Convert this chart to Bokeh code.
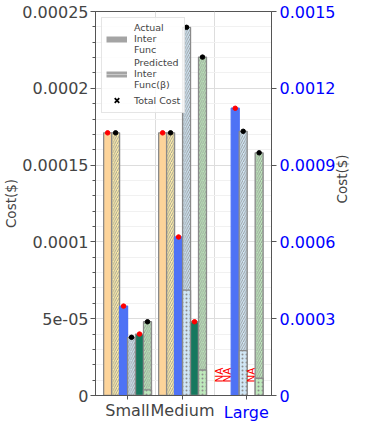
import math
from bokeh.plotting import figure
from bokeh.models import (ColumnDataSource, Range1d, LinearAxis, FixedTicker,
                          Legend, LegendItem)
from bokeh.core.properties import value
from bokeh.embed import file_html
from bokeh.resources import INLINE

# ---------------- data ----------------
groups = ["Small", "Medium", "Large"]
group_pos = [0.0, 1.0, 2.03]
tick_pos = [0.0, 1.0, 2.16]
group_axis = ["default", "default", "right"]   # Large uses the right (blue) axis

left_ticks = [0, 0.00005, 0.0001, 0.00015, 0.0002, 0.00025]
left_tick_labels = ["0", "5e-05", "0.0001", "0.00015", "0.0002", "0.00025"]
right_ticks = [0, 0.0003, 0.0006, 0.0009, 0.0012, 0.0015]
right_tick_labels = ["0", "0.0003", "0.0006", "0.0009", "0.0012", "0.0015"]

# total cost of each bar (None = NA), inter-function part of predicted bars
orange_total = [0.000171, 0.000171, None]
yellow_total = [0.000171, 0.000171, None]
blue_total = [0.0000582, 0.0001032, 0.001122]
lblue_total = [0.0000379, 0.0002397, 0.001032]
lblue_inter = [0.0, 0.0000686, 0.000175]
dgreen_total = [0.0000400, 0.0000480, None]
lgreen_total = [0.0000480, 0.0002203, 0.000948]
lgreen_inter = [0.0000036, 0.0000166, 0.0000674]

# ---------------- styles ----------------
FONT = "DejaVu Sans"
EDGE = "#8a8a8a"
AXC = "#555555"
series = [
    dict(total=orange_total, inter=None, fill="#FDD49A", line=EDGE, hatch=None, dot="red"),
    dict(total=yellow_total, inter=None, fill="#FFEFAA", line=EDGE, hatch="/", dot="black"),
    dict(total=blue_total, inter=None, fill="#4E72F5", line="#4E72F5", hatch=None, dot="red"),
    dict(total=lblue_total, inter=lblue_inter, fill="#D0E6F5", line=EDGE, hatch="/", dot="black"),
    dict(total=dgreen_total, inter=None, fill="#16785E", line=EDGE, hatch=None, dot="red"),
    dict(total=lgreen_total, inter=lgreen_inter, fill="#BEE9BC", line=EDGE, hatch="/", dot="black"),
]
BAR_W = 0.145

p = figure(width=361, height=424,
           x_range=Range1d(-0.583, 2.617), y_range=Range1d(0, 0.00025),
           output_backend="svg", toolbar_location=None,
           min_border_left=90, min_border_top=11, min_border_right=87, min_border_bottom=0)
p.extra_y_ranges = {"right": Range1d(0, 0.0015)}
p.background_fill_color = "white"
p.border_fill_color = "white"
p.outline_line_color = AXC

# grids
p.ygrid.grid_line_color = "#dddddd"
p.ygrid.minor_grid_line_color = "#f1f1f1"
p.xgrid.ticker = FixedTicker(ticks=[0.5, 1.58])
p.xgrid.grid_line_color = "#dddddd"

# left axis
ya = p.yaxis[0]
ya.ticker = FixedTicker(ticks=left_ticks, minor_ticks=[k * 0.00001 for k in range(26)])
ya.major_label_overrides = dict(zip(left_ticks, left_tick_labels))
ya.axis_label = "Cost($)"
ya.axis_label_text_font = FONT
ya.axis_label_text_font_size = "13.5px"
ya.axis_label_text_font_style = "normal"
ya.axis_label_standoff = 0
ya.major_label_text_font = FONT
ya.major_label_text_font_size = "16px"
ya.major_label_standoff = 2
ya.major_tick_out = 5
ya.major_tick_in = 0
ya.minor_tick_out = 3
ya.minor_tick_in = 0
ya.axis_line_color = AXC
ya.major_tick_line_color = AXC
ya.minor_tick_line_color = AXC

# right axis
ra = LinearAxis(y_range_name="right")
ra.ticker = FixedTicker(ticks=right_ticks)
ra.major_label_overrides = dict(zip(right_ticks, right_tick_labels))
ra.axis_label = "Cost($)"
ra.axis_label_text_font = FONT
ra.axis_label_text_font_size = "13.5px"
ra.axis_label_text_font_style = "normal"
ra.axis_label_standoff = 4
ra.major_label_text_font = FONT
ra.major_label_text_font_size = "16px"
ra.major_label_text_color = "#0000FF"
ra.major_label_standoff = 3
ra.major_tick_out = 5
ra.major_tick_in = 0
ra.minor_tick_out = 0
ra.minor_tick_line_color = None
ra.axis_line_color = AXC
ra.major_tick_line_color = AXC
try:
    ra.axis_label_orientation = math.pi / 2
except Exception:
    pass
p.add_layout(ra, "right")

# x axis (Small, Medium in black)
xa = p.xaxis[0]
xa.ticker = FixedTicker(ticks=tick_pos)
xa.major_label_overrides = {tick_pos[0]: groups[0], tick_pos[1]: groups[1], tick_pos[2]: " "}
xa.major_label_text_font = FONT
xa.major_label_text_font_size = "16px"
xa.major_label_standoff = 1
xa.major_tick_out = 4
xa.major_tick_in = 0
xa.minor_tick_out = 0
xa.minor_tick_line_color = None
xa.axis_line_color = AXC
xa.major_tick_line_color = AXC
xa.axis_label_standoff = 0

# second x axis carrying only the blue "Large" label, pulled up onto the first one
xb = LinearAxis()
xb.ticker = FixedTicker(ticks=[tick_pos[2]])
xb.major_label_overrides = {tick_pos[2]: groups[2]}
xb.major_label_text_font = FONT
xb.major_label_text_font_size = "16px"
xb.major_label_text_color = "#0000FF"
xb.major_label_standoff = -20
xb.major_tick_out = 0
xb.major_tick_in = 0
xb.minor_tick_out = 0
xb.minor_tick_in = 0
xb.major_tick_line_color = None
xb.minor_tick_line_color = None
xb.axis_line_color = None
xb.axis_label_standoff = 0
p.add_layout(xb, "below")

# ---------------- bars ----------------
for i, s in enumerate(series):
    off = (i - 2.5) * BAR_W
    for rng in ("default", "right"):
        xs, tops, inters, na_x = [], [], [], []
        for g in range(len(groups)):
            if group_axis[g] != rng:
                continue
            x = group_pos[g] + off
            t = s["total"][g]
            if t is None:
                na_x.append(x)
                continue
            xs.append(x)
            tops.append(t)
            inters.append(s["inter"][g] if s["inter"] is not None else 0.0)
        if xs:
            src = ColumnDataSource(dict(x=xs, top=tops, inter=inters))
            kw = dict(x="x", top="top", width=BAR_W, source=src, y_range_name=rng,
                      fill_color=s["fill"], line_color=s["line"], line_width=1.3)
            if s["hatch"]:
                kw.update(hatch_pattern=s["hatch"], hatch_color="#8c8c8c",
                          hatch_scale=4.5, hatch_weight=0.8)
            p.vbar(**kw)
            if s["inter"] is not None:
                p.vbar(x="x", top="inter", width=BAR_W, source=src, y_range_name=rng,
                       fill_color=s["fill"], line_color=EDGE, line_width=1.3,
                       hatch_pattern=".", hatch_color="#8c8c8c", hatch_scale=4,
                       hatch_weight=1)
            p.scatter(x="x", y="top", source=src, y_range_name=rng, size=4.5,
                      marker="circle", fill_color=s["dot"], line_color=s["dot"])
        if na_x:
            p.text(x=na_x, y=[0] * len(na_x), text=["NA"] * len(na_x), y_range_name=rng,
                   angle=math.pi / 2, text_align="left", text_baseline="middle",
                   text_color="red", text_font=value(FONT), text_font_size="10.5px",
                   y_offset=-13)

# ---------------- legend ----------------
hidden_x = [-10, -10]
hidden_y = [0, 0]
r_act = p.line(x=hidden_x, y=hidden_y, line_color="#A4A4A4", line_width=6)
r_pred = p.line(x=hidden_x, y=hidden_y, line_color="#A4A4A4", line_width=6)
r_pred_dots = p.line(x=hidden_x, y=hidden_y, line_color="#eeeeee", line_width=1,
                     line_dash="1 1")
r_tot = p.scatter(x=hidden_x, y=hidden_y, marker="x", size=7, line_color="black", line_width=1.8)
legend = Legend(items=[LegendItem(label="Actual\nInter\nFunc", renderers=[r_act]),
                       LegendItem(label="Predicted\nInter\nFunc(β)", renderers=[r_pred, r_pred_dots]),
                       LegendItem(label="Total Cost", renderers=[r_tot])],
                location="top_left", margin=6, padding=4, spacing=2,
                glyph_width=21, glyph_height=16, label_standoff=7, label_height=12,
                label_text_font=FONT, label_text_font_size="9.5px",
                label_text_line_height=1.5,
                border_line_color="#cccccc", background_fill_alpha=0.85)
p.add_layout(legend)

open("out.html", "w").write(file_html(p, INLINE))
